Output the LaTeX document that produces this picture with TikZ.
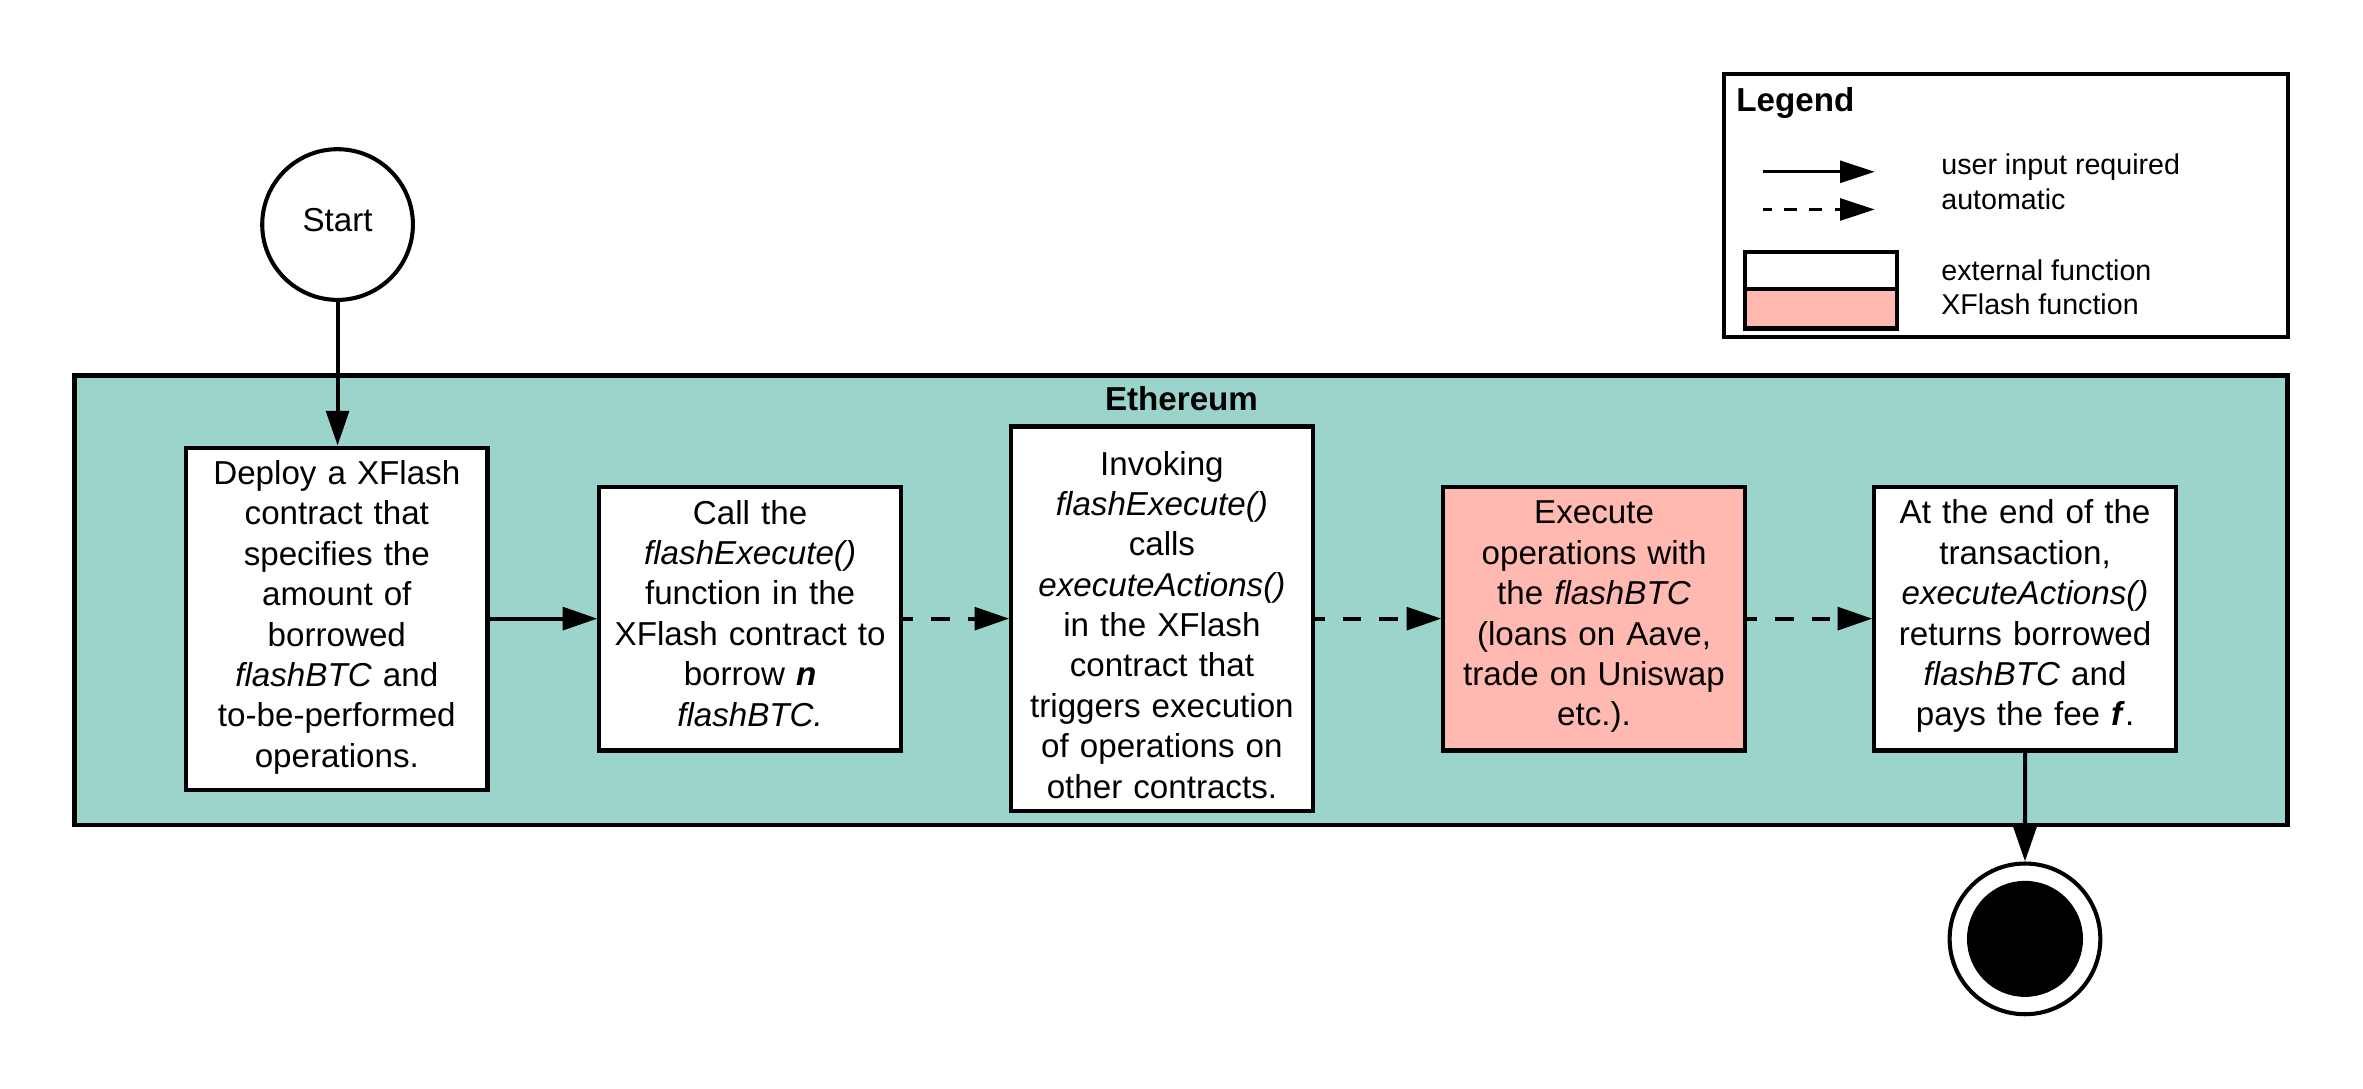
\documentclass[tikz,border=0pt]{standalone}
\usepackage{fontspec}
\setmainfont{Liberation Sans}
\usetikzlibrary{arrows.meta}
\definecolor{eth}{HTML}{9AD4CA}
\definecolor{xpink}{HTML}{FFB9B1}
\newcommand{\firstline}{\rule{0pt}{18pt}}
\begin{document}
\begin{tikzpicture}[x=1pt,y=-1pt,
  boxtext/.style={font=\fontsize{22}{26.8}\selectfont},
  stepbox/.style={draw, line width=2.7pt, fill=white, inner sep=0pt, minimum width=200pt},
  steptext/.style={anchor=north, inner sep=0pt, text width=196pt, align=center, boxtext},
  conn/.style={line width=2.7pt, -{Triangle[length=23pt,width=15pt]}},
  dconn/.style={conn, dash pattern=on 12pt off 12pt, dash phase=5pt},
  legarrow/.style={line width=2.2pt, -{Triangle[length=23pt,width=14.5pt]}},
  legdarrow/.style={legarrow, dash pattern=on 8.5pt off 8.3pt, dash phase=3pt},
  legtext/.style={anchor=base west, inner sep=0pt, font=\fontsize{19}{23}\selectfont},
  titletext/.style={inner sep=0pt, font=\bfseries\fontsize{22}{26}\selectfont}]
\useasboundingbox (0,0) rectangle (1568,722);

% Legend
\node[draw, line width=2.7pt, minimum width=374pt, minimum height=174.5pt, inner sep=0pt] (legend) at (1331,136.5) {};
\node[titletext, anchor=base west] (legtitle) at (1152,73.7) {Legend};
\coordinate (la1) at (1170,114);
\coordinate (la2) at (1244,114);
\coordinate (lb1) at (1170,139);
\coordinate (lb2) at (1244,139);
\draw[legarrow] (la1) -- (la2);
\draw[legdarrow] (lb1) -- (lb2);
\node[draw, line width=2.7pt, fill=white, minimum width=101pt, minimum height=25pt, inner sep=0pt] (lext) at (1208.5,179.5) {};
\node[draw, line width=2.7pt, fill=xpink, minimum width=101pt, minimum height=26pt, inner sep=0pt] (lxf) at (1208.5,205) {};
\node[legtext] (t1) at (1288,116) {user input required};
\node[legtext] (t2) at (1288,139) {automatic};
\node[legtext] (t3) at (1288,186) {external function};
\node[legtext] (t4) at (1288,209) {XFlash function};

% Ethereum container
\node[draw, fill=eth, line width=3pt, minimum width=1468.5pt, minimum height=298.5pt, inner sep=0pt] (eth) at (783.75,398.25) {};
\node[titletext, anchor=base] (ethtitle) at (784,272.5) {Ethereum};

% Start / End
\node[circle, draw, fill=white, line width=2.7pt, minimum size=100pt, inner sep=0pt, boxtext, text height=15.75pt, text depth=7pt] (start) at (224,149) {Start};
\node[circle, draw, fill=white, line width=2.7pt, minimum size=100pt, inner sep=0pt] (end) at (1343.7,623) {};
\node[circle, fill=black, minimum size=77pt, inner sep=0pt] (endin) at (end.center) {};

% Steps (boxes)
\node[stepbox, minimum height=227pt] (b1) at (223.5,410.5) {};
\node[stepbox, minimum height=175pt] (b2) at (497.75,410.5) {};
\node[stepbox, minimum height=255pt] (b3) at (771,410.5) {};
\node[stepbox, fill=xpink, minimum height=175pt] (b4) at (1057.75,410.5) {};
\node[stepbox, minimum height=175pt] (b5) at (1343.75,410.5) {};

% Step texts (north = first baseline - 18pt)
\node[steptext] (b1t) at (223.5,303.3) {\firstline Deploy a XFlash\\ contract that\\ specifies the\\ amount of\\ borrowed\\ \textit{flashBTC} and\\ to-be-performed\\ operations.};
\node[steptext] (b2t) at (497.75,329.6) {\firstline Call the\\ \textit{flashExecute()}\\ function in the\\ XFlash contract to\\ borrow \textbf{\textit{n}}\\ \textit{flashBTC.}};
\node[steptext] (b3t) at (771,297) {\firstline Invoking\\ \textit{flashExecute()}\\ calls\\ \textit{executeActions()}\\ in the XFlash\\ contract that\\ triggers execution\\ of operations on\\ other contracts.};
\node[steptext] (b4t) at (1057.75,329.4) {\firstline Execute\\ operations with\\ the \textit{flashBTC}\\ (loans on Aave,\\ trade on Uniswap\\ etc.).};
\node[steptext] (b5t) at (1343.75,329.4) {\firstline At the end of the\\ transaction,\\ \textit{executeActions()}\\ returns borrowed\\ \textit{flashBTC} and\\ pays the fee \textbf{\textit{f}}.};

% Connectors
\draw[conn] (start.south) -- (start.south |- b1.north);
\draw[conn] (b1.east) -- (b2.west);
\draw[dconn] (b2.east) -- (b3.west);
\draw[dconn] (b3.east) -- (b4.west);
\draw[dconn] (b4.east) -- (b5.west);
\draw[conn] (b5.south) -- (end.north);
\end{tikzpicture}
\end{document}
